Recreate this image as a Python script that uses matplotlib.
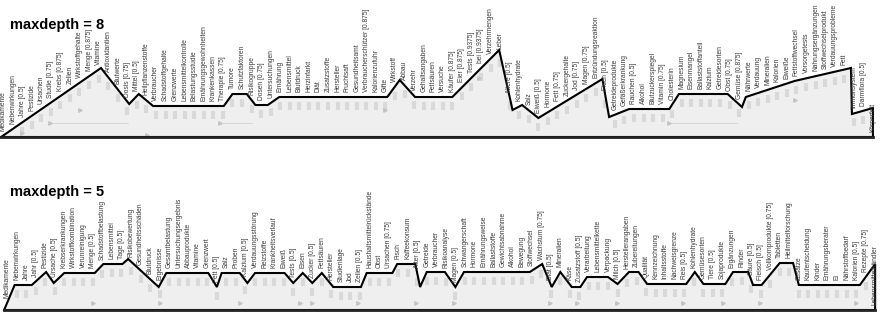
import numpy as np
import matplotlib.pyplot as plt

# ---- top panel (maxdepth = 8) ----
# profile vertices: position in label slots, height above baseline
top_pos = [-0.2, 10.25, 13.2, 14.2, 15.7, 23.1, 24.0, 25.5, 26.4, 27.7,
           28.9, 40.2, 41.5, 43.1, 47.0, 51.9, 53.3, 54.3, 56.0, 62.7,
           63.4, 65.5, 69.7, 70.7, 75.8, 77.3, 77.7, 82.8, 88.7, 88.8,
           91.0, 91.0]
top_h = [0, 69, 33, 43, 31, 31, 43, 43, 32, 32,
         40, 40, 57, 40, 40, 87, 27, 32, 19, 58,
         20, 28, 28, 43, 43, 30, 40, 56, 69, 23,
         29, 0]
top_labels = [
    "Medikamente", "Nebenwirkungen", "Jahre [0.5]", "Pestizide", "Ursachen",
    "Studie [0.75]", "Krebs [0.875]", "Zellen", "Wirkstoffgehalte", "Menge [0.875]",
    "Vitamine", "Antioxidantien", "Blutwerte", "Dosis [0.75]", "Mittel [0.5]",
    "Heilpflanzenstoffe", "Verbraucher", "Schadstoffgehalte", "Grenzwerte",
    "Lebensmittelkontrolle", "Belastungsstudie", "Ernährungsgewohnheiten",
    "Krankenkassen", "Therapie [0.75]", "Tumore", "Schutzfaktoren", "Risikogruppe",
    "Dosen [0.75]", "Untersuchungen", "Ernährung", "Lebensmittel", "Blutdruck",
    "Herzinfarkt", "Diät", "Zusatzstoffe", "Hersteller", "Fruchtsaft",
    "Gesundheitsamt", "Verbraucherschützer [0.875]", "Kalorienzufuhr", "Gifte",
    "Wirkstoff", "Abbau", "Verzehr", "Gehaltsangaben", "Fettsäuren", "Versuche",
    "Käufer [0.875]", "Eier [0.875]", "Tests [0.9375]", "bei [0.9375]",
    "Verzehrmengen", "Leber", "Niere [0.5]", "Kohlenhydrate", "Salz",
    "Eiweiß [0.5]", "Hormone", "Fett [0.75]", "Zuckergehalte", "Jod [0.75]",
    "Magen [0.75]", "Entzündungsreaktion", "Fisch [0.5]", "Getreideprodukte",
    "Gefäßerkrankung", "Rauchen [0.5]", "Alkohol", "Blutzuckerspiegel",
    "Vitamin [0.75]", "Cholesterin", "Magnesium", "Eisenmangel", "Ballaststoffanteil",
    "Kalzium", "Getreidesorten", "Obst [0.75]", "Gemüse [0.875]", "Nährwerte",
    "Verdauung", "Mineralien", "Kalorien", "Eiweiße",
    "Fettstoffwechsel", "Vorsorgetests", "Nahrungsergänzungen",
    "Stoffwechselprodukt", "Verdauungsprobleme", "Fett", "Immunsystem",
    "Darmflora [0.5]", "Körperfett",
]
top_arrows = [(4.9, 13.1, 14), (22.7, 26.0, 14), (69.7, 76.8, 14)]
top_marks_pos = [2.0, 8.1, 15.1, 40.0, 49.8, 82.8]
top_marks_h = [4, 27, 2, 27, 59, 37]

# ---- bottom panel (maxdepth = 5) ----
bot_pos = [-0.3, 0.8, 2.6, 4.1, 4.9, 6.0, 9.2, 10.1, 12.1, 12.7,
           15.9, 16.7, 21.1, 22.0, 22.5, 24.4, 25.2, 26.0, 29.1, 30.0,
           31.0, 32.0, 33.0, 34.2, 37.1, 37.7, 40.4, 40.9, 42.8, 43.3,
           44.0, 45.9, 47.0, 47.9, 54.8, 56.1, 57.1, 58.0, 59.2, 60.1,
           60.8, 63.0, 64.0, 65.2, 66.2, 67.1, 71.2, 72.1, 73.0, 75.3,
           76.1, 77.7, 78.2, 79.1, 81.0, 82.4, 83.0, 89.4, 91.0, 91.0]
bot_h = [0, 25, 25, 38, 27, 37, 37, 46, 46, 51,
         23, 37, 37, 23, 37, 37, 27, 37, 37, 27,
         37, 27, 37, 23, 23, 37, 37, 46, 46, 23,
         38, 38, 23, 38, 38, 46, 23, 38, 23, 23,
         33, 33, 26, 38, 38, 26, 26, 38, 26, 26,
         38, 38, 25, 25, 47, 47, 25, 25, 46, 0]
bot_labels = [
    "Medikamente", "Nebenwirkungen", "Jahre", "Jahr [0.5]", "Pestizide",
    "Ursache [0.5]", "Krebserkrankungen", "Wirkstoffkombination", "Verunreinigung",
    "Menge [0.5]", "Schadstoffbelastung", "Lebensmittel", "Tage [0.5]",
    "Risikobewertung", "Gesundheitsschäden", "Blutdruck", "Ergebnisse",
    "Gesamtbelastung", "Untersuchungsergebnis", "Abbauprodukte", "Vitamine",
    "Grenzwert", "Fett [0.5]", "Salz", "Proben", "Kalzium [0.5]",
    "Verdauungsstörung", "Reizstoffe", "Krankheitsverlauf", "Eiweiß", "Tests [0.5]",
    "Eisen", "Zucker [0.5]", "Fettsäuren", "Hersteller", "Studienlage", "Jod",
    "Zellen [0.5]", "Haushaltsmittelrückstände", "Obst", "Ursachen [0.75]", "Fisch",
    "Kaffeekonsum", "Alter [0.5]", "Getreide", "Verbraucher", "Risikoanalyse",
    "Magen [0.5]", "Schwangerschaft", "Hormone", "Ernährungsweise", "Ballaststoffe",
    "Gewichtsabnahme", "Alkohol", "Bewegung", "Stoffwechsel", "Wachstum [0.75]",
    "Diät [0.5]", "Mineralien", "Käse", "Zusatzstoff [0.5]", "Verarbeitung",
    "Lebensmittelkette", "Verpackung", "Milch [0.5]", "Herstellerangaben",
    "Zubereitungen", "Qualität", "Kennzeichnung", "Inhaltsstoffe", "Nachweisgrenze",
    "Reis [0.5]", "Kohlenhydrate", "Gemüsesorten", "Tiere [0.5]", "Sojaprodukte",
    "Ergänzungen", "Rinder", "Säure [0.5]", "Fleisch [0.5]",
    "Vollkornprodukte [0.75]", "Tabletten", "Heilmittelforschung", "Zusätze",
    "Kaufentscheidung", "Kinder", "Ernährungsberater", "Ei", "Nährstoffbedarf",
    "Kalorien [0.5]", "Rezepte [0.75]", "Lebensmittelhändler",
]
bot_arrows = []
bot_marks_pos = [9.0, 16.0, 24.4, 30.7, 32.0, 36.8, 42.9, 46.9, 56.9, 59.7,
                 63.9, 70.9, 75.1, 78.9, 89.0]
bot_marks_h = [7] * len(bot_marks_pos)

W, H = 883, 316
fig = plt.figure(figsize=(W / 100, H / 100), dpi=100)
fig.patch.set_facecolor('white')


def panel(rect, xlim, ylim, pos, h, labels, arrows, mpos, mh):
    ax = fig.add_axes(rect)
    ax.set_xlim(xlim)
    ax.set_ylim(ylim)
    ax.axis('off')

    px = list(pos) + [pos[0]]
    py = list(h) + [h[0]]
    ax.fill(px, py, color='#efefef', zorder=1)

    # faint glyphs under the line
    for i in range(len(labels)):
        hx = np.interp(i, pos, h)
        lo = max(hx - 13, 3)
        if hx - 5 > lo:
            ax.vlines(i, lo, hx - 5, color='#d9d9d9', lw=3.0, zorder=2)
    for a, b, lv in arrows:
        ax.plot([a, b], [lv, lv], color='#d4d4d4', lw=0.6, zorder=2)
        ax.plot([a], [lv], marker='>', ms=2.5, color='#c4c4c4', zorder=2)
    ax.plot(mpos, mh, ls='none', marker='>', ms=2.5, color='#c4c4c4', zorder=2)

    ax.plot(px, py, color='black', lw=1.5, solid_joinstyle='miter', zorder=4)
    ax.plot([pos[0], pos[-1]], [0, 0], color='#222222', lw=2.0, zorder=4)

    for i, lab in enumerate(labels):
        hx = np.interp(i, pos, h)
        ax.text(i, hx + 5, lab, rotation=90, ha='center', va='bottom',
                fontsize=4.8, color='#3a3a3a', family='Liberation Sans', zorder=5)
    return ax


panel([0, 1 - 155 / H, 1, 155 / H], (-3 / 9.56, 880 / 9.56), (-18, 137),
      top_pos, top_h, top_labels, top_arrows, top_marks_pos, top_marks_h)
panel([0, 0, 1, 156 / H], (-7 / 9.54, 876 / 9.54), (-6, 150),
      bot_pos, bot_h, bot_labels, bot_arrows, bot_marks_pos, bot_marks_h)

fig.text(10 / W, 1 - 25 / H, "maxdepth = 8", fontsize=10.5, fontweight='bold',
         va='center', ha='left', family='Liberation Sans')
fig.text(10 / W, 1 - 192 / H, "maxdepth = 5", fontsize=10.5, fontweight='bold',
         va='center', ha='left', family='Liberation Sans')

fig.savefig('out.png', dpi=100, facecolor='white')
